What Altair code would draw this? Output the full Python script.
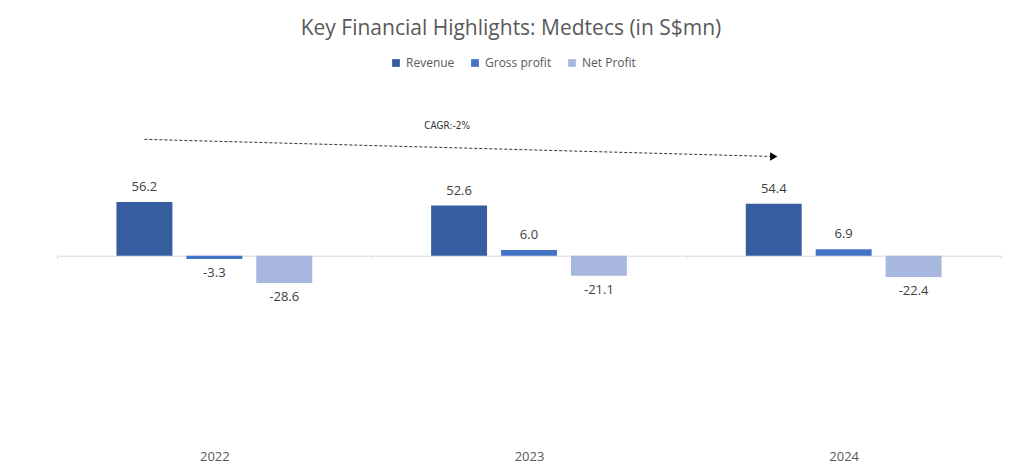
import altair as alt
import pandas as pd

years = ["2022", "2023", "2024"]
series = ["Revenue", "Gross profit", "Net Profit"]
revenue = [56.2, 52.6, 54.4]
gross_profit = [-3.3, 6.0, 6.9]
net_profit = [-28.6, -21.1, -22.4]
colors = ["#355DA0", "#4472C4", "#A8B7DD"]

cagr_label = "CAGR:-2%"
arrow_years = ["2022", "2024"]
arrow_values = [122, 104]
cagr_year = "2023"
cagr_value = 137

rows = []
for i, y in enumerate(years):
    for s, vals in zip(series, [revenue, gross_profit, net_profit]):
        v = vals[i]
        rows.append({"year": y, "series": s, "value": v, "label": f"{v:.1f}"})
df = pd.DataFrame(rows)

arrow_df = pd.DataFrame({"year": arrow_years, "series": ["Revenue"] * 2, "value": arrow_values})
head_df = arrow_df.iloc[[-1]]
cagr_df = pd.DataFrame({"year": [cagr_year], "series": ["Revenue"], "value": [cagr_value], "label": [cagr_label]})

FONT = "Open Sans"

x_enc = alt.X(
    "year:N",
    sort=years,
    title=None,
    scale=alt.Scale(paddingInner=0, paddingOuter=0),
    axis=alt.Axis(
        orient="bottom",
        offset=-181.3,
        domainColor="#D9D9D9",
        tickColor="#D9D9D9",
        tickSize=3,
        tickBand="extent",
        labelAngle=0,
        labelPadding=192,
        labelFontSize=13,
        labelColor="#595959",
        labelFont=FONT,
    ),
)
xo_enc = alt.XOffset(
    "series:N", sort=series,
    scale=alt.Scale(domain=series, paddingInner=0.2, paddingOuter=0.85),
)
y_enc = alt.Y("value:Q", scale=alt.Scale(domain=[-190, 180], nice=False, zero=False), axis=None)

base = alt.Chart(df).encode(x=x_enc, xOffset=xo_enc, y=y_enc)

bars = base.mark_bar().encode(
    color=alt.Color(
        "series:N", sort=series,
        scale=alt.Scale(domain=series, range=colors),
        legend=alt.Legend(
            title=None, orient="none", legendX=333, legendY=-27, direction="horizontal",
            symbolType="square", symbolSize=60, labelFontSize=12, labelColor="#595959",
            labelFont=FONT, columnPadding=14, labelOffset=4,
        ),
    )
)

pos_labels = base.transform_filter("datum.value >= 0").mark_text(
    baseline="bottom", dy=-8, fontSize=13, color="#404040", font=FONT
).encode(text="label:N")

neg_labels = base.transform_filter("datum.value < 0").mark_text(
    baseline="top", dy=8, fontSize=13, color="#404040", font=FONT
).encode(text="label:N")

arrow = alt.Chart(arrow_df).mark_line(
    color="#333333", strokeWidth=1, strokeDash=[3, 2]
).encode(x=alt.X("year:N", sort=years), xOffset=alt.XOffset("series:N"), y="value:Q")

head = alt.Chart(head_df).mark_point(
    shape="triangle-right", filled=True, size=70, color="#000000", opacity=1
).encode(x=alt.X("year:N", sort=years), xOffset=alt.XOffset("series:N"), y="value:Q")

cagr = alt.Chart(cagr_df).mark_text(
    fontSize=10, color="#333333", font="DejaVu Sans Condensed", dx=-12, dy=1
).encode(x=alt.X("year:N", sort=years), xOffset=alt.XOffset("series:N"), y="value:Q", text="label:N")

chart = alt.layer(bars, pos_labels, neg_labels, arrow, head, cagr).properties(
    width=944,
    height=353,
    autosize=alt.AutoSizeParams(type="none"),
    padding={"left": 49, "top": 76, "right": 15, "bottom": 30},
    title=alt.TitleParams(
        "Key Financial Highlights: Medtecs (in S$mn)",
        fontSize=21, font=FONT, fontWeight="normal", color="#595959",
        anchor="middle", offset=18, dx=-18,
    ),
).configure_view(stroke=None)

chart.save("out.html", embed_options={"renderer": "svg", "actions": False})
